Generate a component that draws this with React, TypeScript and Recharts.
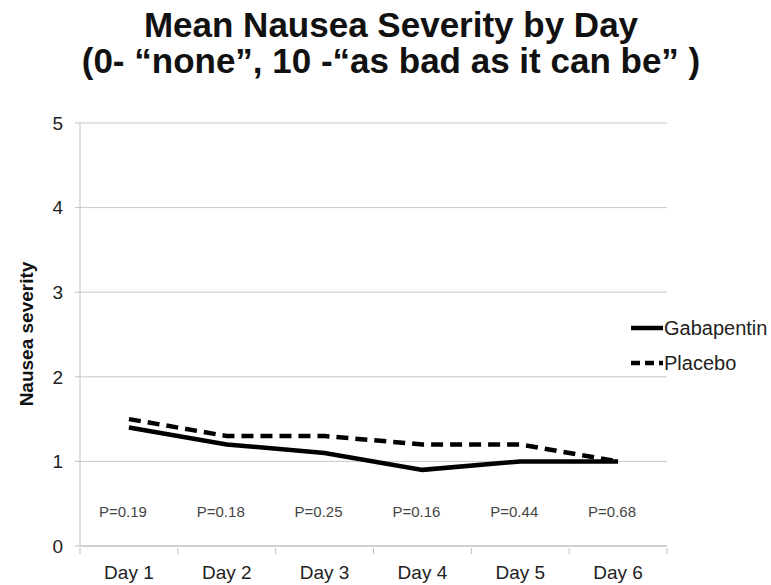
import { ComposedChart, Line, XAxis, YAxis, CartesianGrid, ReferenceDot, Legend } from 'recharts';

const days = ['Day 1', 'Day 2', 'Day 3', 'Day 4', 'Day 5', 'Day 6'];
const gabapentin = [1.4, 1.2, 1.1, 0.9, 1.0, 1.0];
const placebo = [1.5, 1.3, 1.3, 1.2, 1.2, 1.0];
const pValues = ['P=0.19', 'P=0.18', 'P=0.25', 'P=0.16', 'P=0.44', 'P=0.68'];
const yTicks = [0, 1, 2, 3, 4, 5];

const data = days.map((day, i) => ({ day, Gabapentin: gabapentin[i], Placebo: placebo[i] }));

const FONT = 'Liberation Sans, Arial, Helvetica, sans-serif';
const AXIS = '#bfbfbf';

function DayTick(props: any) {
  const { x, y, payload, index } = props;
  const off = payload.offset || 0;
  return (
    <g>
      <line x1={x - off} x2={x - off} y1={y} y2={y + 6} stroke={AXIS} />
      {index === days.length - 1 && <line x1={x + off} x2={x + off} y1={y} y2={y + 6} stroke={AXIS} />}
      <text x={x} y={y + 31} textAnchor="middle" fontSize={19} fill="#222" fontFamily={FONT}>
        {payload.value}
      </text>
    </g>
  );
}

function LegendBox() {
  const items = [
    { name: 'Gabapentin', dash: undefined },
    { name: 'Placebo', dash: '9 5' },
  ];
  return (
    <svg width={150} height={60}>
      {items.map((it, i) => (
        <g key={it.name}>
          <line x1={0} x2={32} y1={12 + i * 35} y2={12 + i * 35} stroke="#000" strokeWidth={4.5} strokeDasharray={it.dash} />
          <text x={33} y={19 + i * 35} fontSize={20} fill="#222" fontFamily={FONT}>
            {it.name}
          </text>
        </g>
      ))}
    </svg>
  );
}

export default function App() {
  return (
    <div style={{ position: 'absolute', left: 0, top: 0, width: 771, height: 585, background: '#fff', fontFamily: FONT }}>
      <div style={{ position: 'absolute', left: 0, top: 0, width: 782, textAlign: 'center', fontWeight: 'bold', fontSize: 35, lineHeight: '36px', color: '#111', paddingTop: 7 }}>
        <div>Mean Nausea Severity by Day</div>
        <div>(0- “none”, 10 -“as bad as it can be” )</div>
      </div>
      <ComposedChart width={771} height={585} data={data} margin={{ top: 123, right: 104, bottom: 9, left: 20 }}>
        <CartesianGrid vertical={false} stroke="#c8c8c8" />
        <XAxis
          dataKey="day"
          scale="band"
          stroke={AXIS}
          tickLine={false}
          tickSize={0}
          height={30}
          tick={<DayTick />}
          interval={0}
        />
        <YAxis
          domain={[0, 5]}
          ticks={yTicks}
          width={60}
          stroke={AXIS}
          tickSize={5}
          tickMargin={12}
          tick={{ fontSize: 19, fill: '#222', fontFamily: FONT }}
          label={{
            content: () => (
              <text x={33} y={334} transform="rotate(-90 33 334)" textAnchor="middle" fontSize={19} fontWeight="bold" fill="#111" fontFamily={FONT}>
                Nausea severity
              </text>
            ),
          }}
        />
        <Line dataKey="Gabapentin" stroke="#000" strokeWidth={4.5} dot={false} isAnimationActive={false} />
        <Line dataKey="Placebo" stroke="#000" strokeWidth={4.5} strokeDasharray="12 7" dot={false} isAnimationActive={false} />
        {days.map((d, i) => (
          <ReferenceDot
            key={d}
            x={d}
            y={0.4}
            r={0}
            fill="none"
            stroke="none"
            label={{ value: pValues[i], position: 'center', fontSize: 15, fill: '#444', fontFamily: FONT, dx: -6 }}
          />
        ))}
        <Legend
          layout="vertical"
          align="center"
          verticalAlign="middle"
          content={<LegendBox />}
          wrapperStyle={{ left: 631, top: 316, width: 150, height: 60 }}
        />
      </ComposedChart>
    </div>
  );
}
